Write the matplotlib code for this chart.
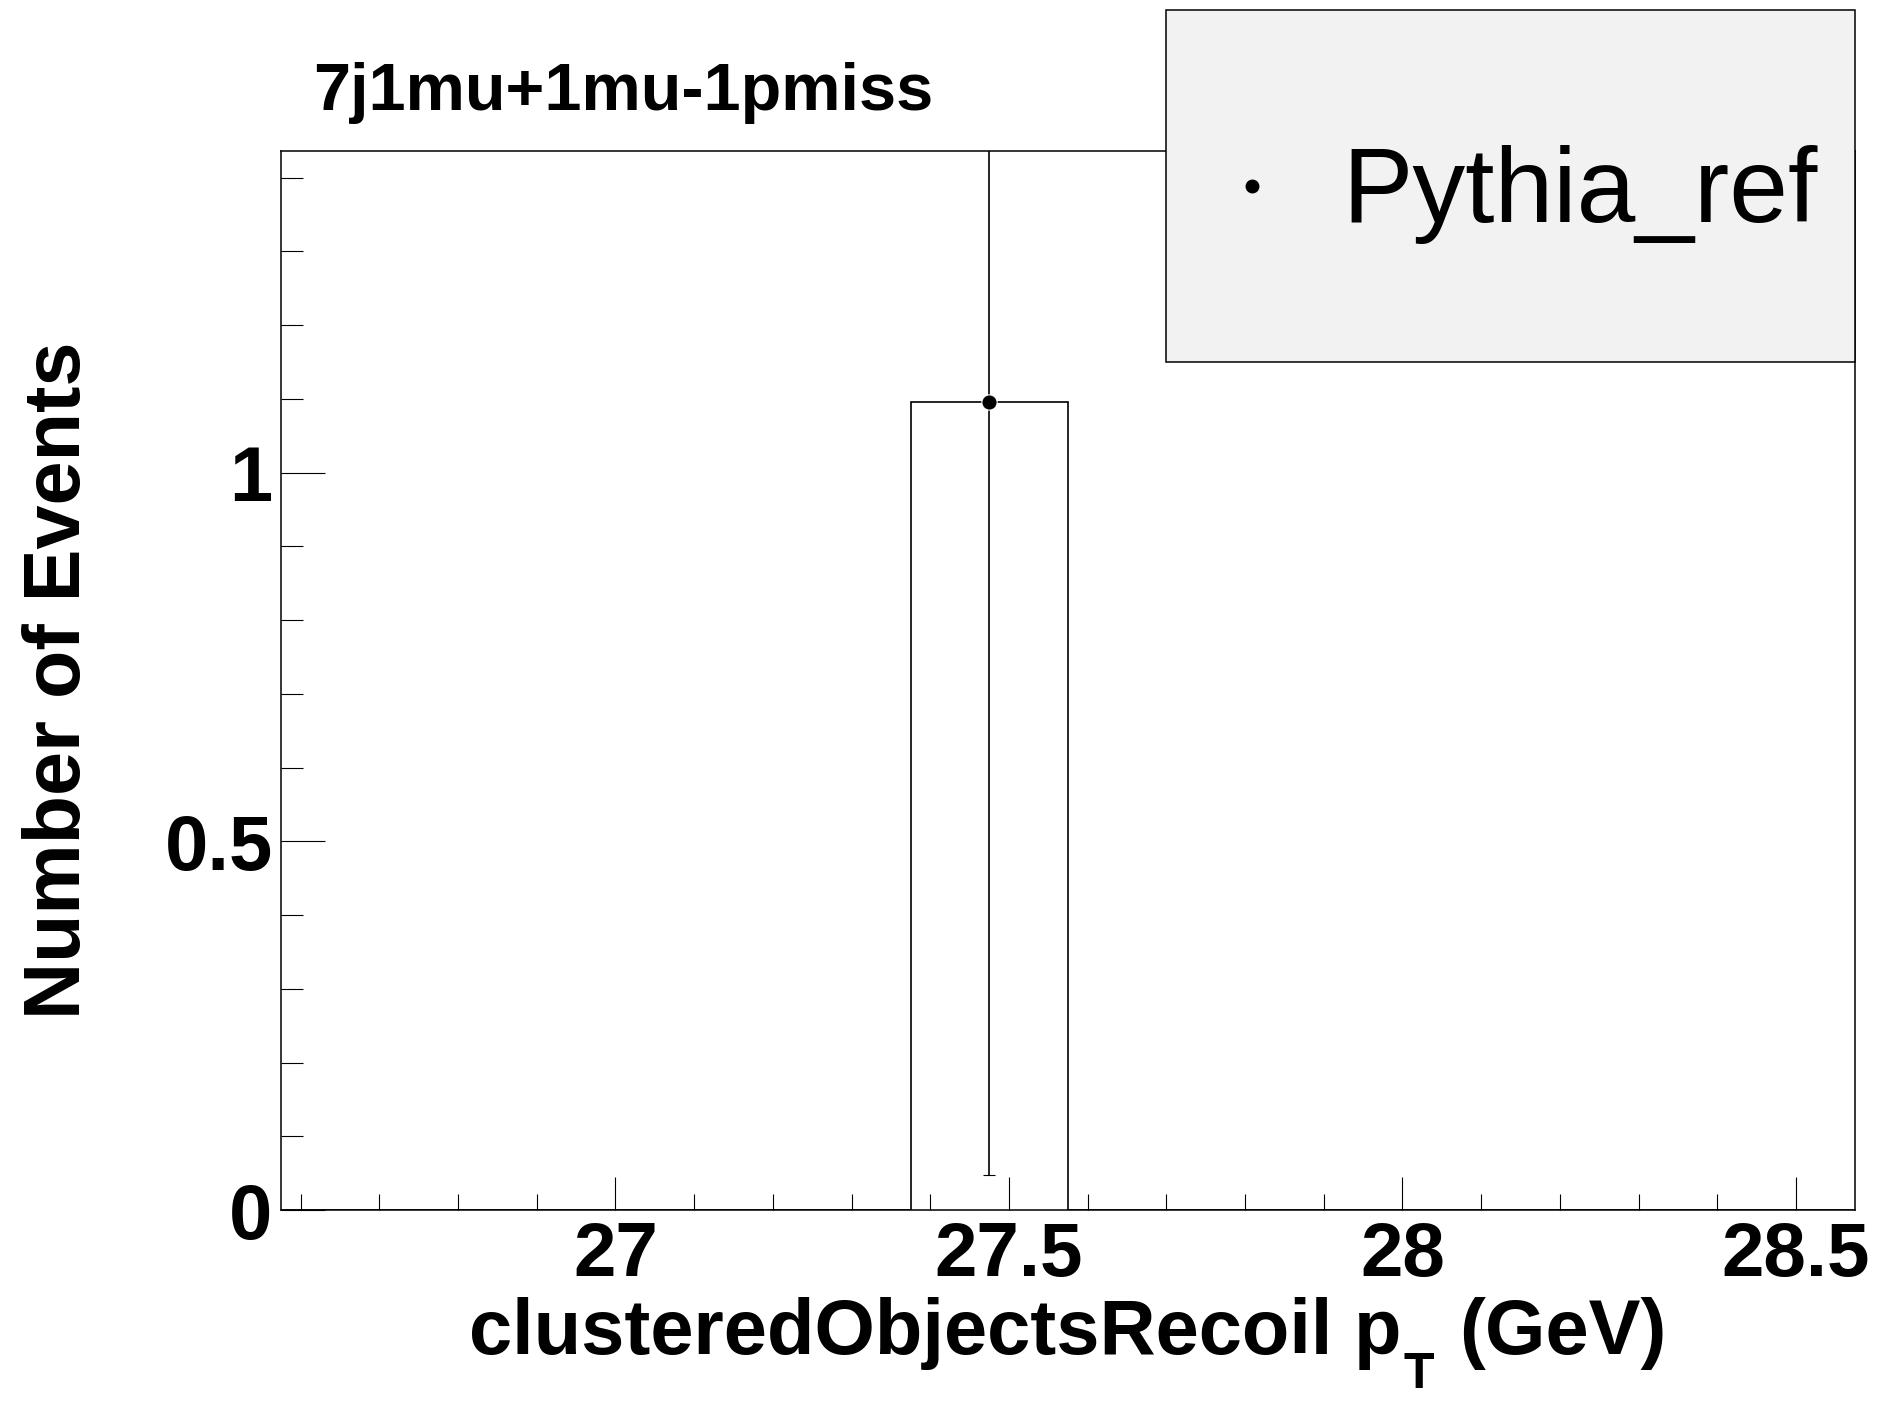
import numpy as np
import matplotlib
matplotlib.use("Agg")
import matplotlib.pyplot as plt
from matplotlib.patches import Rectangle
from matplotlib.lines import Line2D
from matplotlib.ticker import MultipleLocator, FixedLocator

# ---- data ----
bin_edges = [26.575, 26.775, 26.975, 27.175, 27.375, 27.575, 27.775, 27.975, 28.175, 28.375, 28.575]
counts = [0, 0, 0, 0, 1.095, 0, 0, 0, 0, 0]
errors = [0, 0, 0, 0, 1.047, 0, 0, 0, 0, 0]
x_ticks = [27, 27.5, 28, 28.5]
x_ticklabels = ["27", "27.5", "28", "28.5"]
y_ticks = [0, 0.5, 1]
y_ticklabels = ["0", "0.5", "1"]
title = "7j1mu+1mu-1pmiss"
xlabel_main = "clusteredObjectsRecoil p"
xlabel_sub = "T"
xlabel_unit = "(GeV)"
ylabel = "Number of Events"
legend_label = "Pythia_ref"

plt.rcParams['font.family'] = ['Liberation Sans', 'DejaVu Sans']

W, H = 1879, 1402
fig = plt.figure(figsize=(W / 100, H / 100), dpi=100)
L, R, T, B = 281, 1855, 151, 1210
ax = fig.add_axes([L / W, 1 - B / H, (R - L) / W, (B - T) / H])

edges = np.array(bin_edges)
vals = np.array(counts)
errs = np.array(errors)
centers = 0.5 * (edges[:-1] + edges[1:])

ax.stairs(vals, edges, color='black', linewidth=1.2, baseline=0)
mask = vals > 0
ax.errorbar(centers[mask], vals[mask], yerr=errs[mask], fmt='o', color='black',
            ms=11, mec='white', mew=0.8, elinewidth=1.2, capsize=4.5, capthick=1.2)

ax.set_xlim(edges[0], edges[-1])
ax.set_ylim(0, 1.436)

ax.xaxis.set_major_locator(FixedLocator(x_ticks))
ax.set_xticklabels(x_ticklabels)
ax.xaxis.set_minor_locator(MultipleLocator(0.1))
ax.yaxis.set_major_locator(FixedLocator(y_ticks))
ax.set_yticklabels(y_ticklabels)
ax.yaxis.set_minor_locator(MultipleLocator(0.1))

ax.tick_params(axis='both', which='both', direction='in', top=False, right=False, width=0.8)
ax.tick_params(axis='x', which='major', length=24, pad=8, labelsize=55)
ax.tick_params(axis='x', which='minor', length=11.5)
ax.tick_params(axis='y', which='major', length=31.7, pad=6, labelsize=56)
ax.tick_params(axis='y', which='minor', length=15.6)
for lab in ax.get_xticklabels() + ax.get_yticklabels():
    lab.set_fontweight('bold')
for s in ax.spines.values():
    s.set_linewidth(1.1)

# title
fig.text(313 / W, 1 - 110 / H, title, fontsize=48, fontweight='bold', ha='left', va='baseline')

# x label built from pieces (ROOT-style low subscript)
renderer = fig.canvas.get_renderer()
yb = 1 - 1354 / H
t1 = fig.text(0, yb, xlabel_main, fontsize=56, fontweight='bold', ha='left', va='baseline')
t2 = fig.text(0, 1 - 1388 / H, xlabel_sub, fontsize=36, fontweight='bold', ha='left', va='baseline')
t3 = fig.text(0, yb, xlabel_unit, fontsize=56, fontweight='bold', ha='left', va='baseline')
w1 = t1.get_window_extent(renderer).width
w2 = t2.get_window_extent(renderer).width
w3 = t3.get_window_extent(renderer).width
gap1, gap2 = 2, 25
total = w1 + gap1 + w2 + gap2 + w3
x0 = (L + R) / 2 - total / 2
t1.set_x(x0 / W)
t2.set_x((x0 + w1 + gap1) / W)
t3.set_x((x0 + w1 + gap1 + w2 + gap2) / W)

# y label
fig.text(80 / W, 1 - 680 / H, ylabel, fontsize=57, fontweight='bold', rotation=90,
         ha='center', va='baseline', rotation_mode='anchor')

# legend box
lx0, lx1, ly0, ly1 = 1166, 1855, 10, 362
fig.add_artist(Rectangle((lx0 / W, 1 - ly1 / H), (lx1 - lx0) / W, (ly1 - ly0) / H,
                         transform=fig.transFigure, facecolor='#f2f2f2', edgecolor='black',
                         linewidth=1.1, zorder=10))
fig.add_artist(Line2D([1252 / W], [1 - 186 / H], marker='o', color='black', ms=9,
                      transform=fig.transFigure, zorder=11))
fig.text(1342 / W, 1 - 222 / H, legend_label, fontsize=76, ha='left', va='baseline', zorder=11)

fig.savefig("out.png", dpi=100)
